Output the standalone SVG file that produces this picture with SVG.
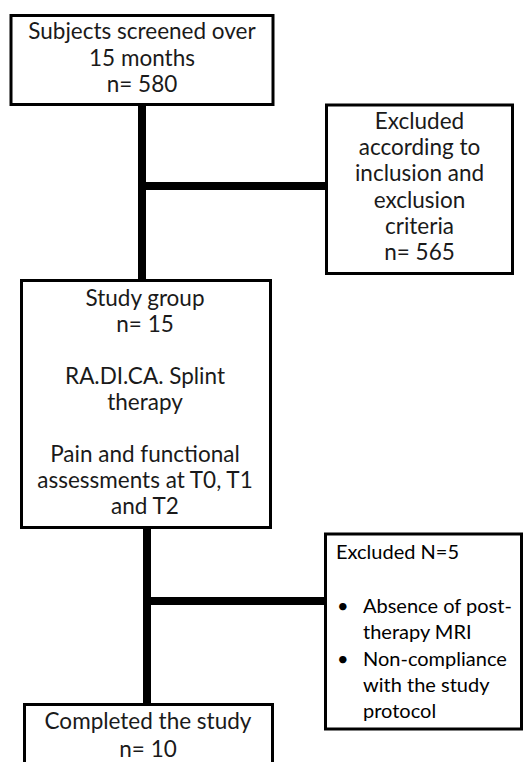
<svg xmlns="http://www.w3.org/2000/svg" width="523" height="762" viewBox="0 0 523 762">
<style>
.box{fill:#fff;stroke:#000;stroke-width:3}
.t{font-family:Lato,"Noto Sans",sans-serif;font-size:22.5px;fill:#1a1a1a;text-anchor:middle}
.c{font-family:Lato,"Open Sans",sans-serif;font-size:20px;fill:#000}
.ln{stroke:#000;stroke-width:8;fill:none}
</style>
<rect width="523" height="762" fill="#fff"/>
<g id="connectors">
<line class="ln" x1="142" y1="104" x2="142" y2="281"/>
<line class="ln" x1="142" y1="186" x2="327" y2="186"/>
<line class="ln" x1="147" y1="527" x2="147" y2="705"/>
<line class="ln" x1="147" y1="601" x2="326" y2="601"/>
</g>
<g id="screened">
<rect class="box" x="11" y="15.5" width="262" height="89"/>
<text class="t" x="142" y="39">Subjects screened over</text>
<text class="t" x="142" y="65.5">15 months</text>
<text class="t" x="142" y="91.5">n= 580</text>
</g>
<g id="excluded1">
<rect class="box" x="326.5" y="105" width="186" height="168.5"/>
<text class="t" x="419.5" y="129">Excluded</text>
<text class="t" x="419.5" y="155">according to</text>
<text class="t" x="419.5" y="181">inclusion and</text>
<text class="t" x="419.5" y="207.5">exclusion</text>
<text class="t" x="419.5" y="233.5">criteria</text>
<text class="t" x="419.5" y="260">n= 565</text>
</g>
<g id="study">
<rect class="box" x="21.5" y="280.5" width="249" height="247"/>
<text class="t" x="145" y="306">Study group</text>
<text class="t" x="145" y="332">n= 15</text>
<text class="t" x="145" y="384">RA.DI.CA. Splint</text>
<text class="t" x="145" y="410">therapy</text>
<text class="t" x="145" y="462">Pain and functional</text>
<text class="t" x="145" y="488">assessments at T0, T1</text>
<text class="t" x="145" y="514">and T2</text>
</g>
<g id="excluded2">
<rect class="box" x="325.5" y="534" width="196" height="195"/>
<text class="c" x="336" y="559">Excluded N=5</text>
<text class="c" x="337" y="613">•</text>
<text class="c" x="363" y="613">Absence of post-</text>
<text class="c" x="363" y="639">therapy MRI</text>
<text class="c" x="337" y="666">•</text>
<text class="c" x="363" y="666">Non-compliance</text>
<text class="c" x="363" y="692">with the study</text>
<text class="c" x="363" y="718">protocol</text>
</g>
<g id="completed">
<rect class="box" x="24.5" y="704.5" width="248" height="80"/>
<text class="t" x="148" y="729">Completed the study</text>
<text class="t" x="148" y="757">n= 10</text>
</g>
</svg>
